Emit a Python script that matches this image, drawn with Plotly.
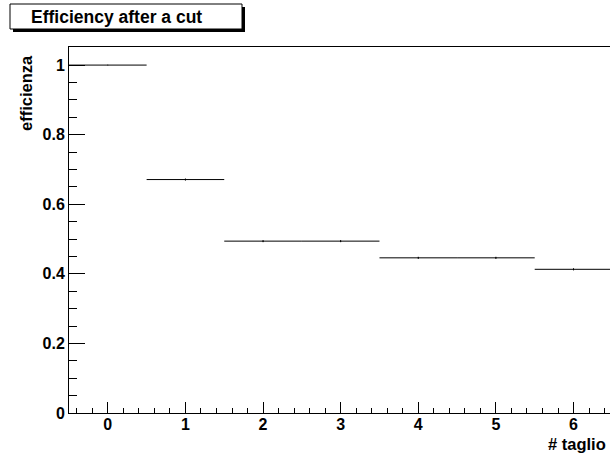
import plotly.graph_objects as go

# Data
cut_index = [0, 1, 2, 3, 4, 5, 6]
efficiency = [1.0, 0.671, 0.494, 0.494, 0.446, 0.446, 0.413]
eff_error = [0.0, 0.003, 0.003, 0.003, 0.003, 0.003, 0.003]
half_bin = [0.5] * len(cut_index)

W, H = 610, 456
L, R, T, B = 69, 0, 47, 43
pw, ph = W - L - R, H - T - B

def px(x):
    return (x - L) / pw

def py(y):
    return (H - B - y) / ph

FONT = "Liberation Sans, Arial, Helvetica, sans-serif"

fig = go.Figure()
fig.add_trace(go.Scatter(
    x=cut_index, y=efficiency, mode="markers",
    marker=dict(size=1, color="black"),
    error_x=dict(type="data", array=half_bin, width=0, thickness=1, color="black"),
    error_y=dict(type="data", array=eff_error, width=0, thickness=1, color="black"),
    showlegend=False, hoverinfo="x+y",
))

fig.update_layout(
    width=W, height=H,
    margin=dict(l=L, r=R, t=T, b=B, pad=0),
    paper_bgcolor="white", plot_bgcolor="white",
    font=dict(family=FONT, size=16, color="black"),
    xaxis=dict(
        range=[-0.5, 6.47], dtick=1, tick0=0,
        showgrid=False, zeroline=False,
        showline=True, linecolor="black", linewidth=1, mirror=True,
        ticks="inside", ticklen=11, tickcolor="black", tickwidth=1,
        ticklabelstandoff=-3,
        minor=dict(dtick=0.2, tick0=0, ticks="inside", ticklen=5, tickcolor="black", showgrid=False),
        tickfont=dict(family=FONT, size=16, color="black", weight="bold"),
    ),
    yaxis=dict(
        range=[0, 1.052], dtick=0.2, tick0=0,
        showgrid=False, zeroline=False,
        showline=True, linecolor="black", linewidth=1, mirror=False,
        ticks="inside", ticklen=16, tickcolor="black", tickwidth=1,
        minor=dict(dtick=0.05, tick0=0, ticks="inside", ticklen=8, tickcolor="black", showgrid=False),
        tickfont=dict(family=FONT, size=16, color="black", weight="bold"),
    ),
    shapes=[
        dict(type="rect", xref="paper", yref="paper",
             x0=px(13), x1=px(245), y0=py(32), y1=py(7),
             fillcolor="black", line=dict(width=0), layer="above"),
        dict(type="rect", xref="paper", yref="paper",
             x0=px(10), x1=px(242), y0=py(29), y1=py(4),
             fillcolor="white", line=dict(color="black", width=1), layer="above"),
    ],
    annotations=[
        dict(text="<b>Efficiency after a cut</b>", xref="paper", yref="paper",
             x=px(116.5), y=py(16.5), xanchor="center", yanchor="middle",
             showarrow=False, font=dict(family=FONT, size=17.5, color="black")),
        dict(text="<b>efficienza</b>", xref="paper", yref="paper",
             x=px(26), y=py(53), xanchor="center", yanchor="top", textangle=-90,
             showarrow=False, font=dict(family=FONT, size=16.5, color="black")),
        dict(text="<b># taglio</b>", xref="paper", yref="paper",
             x=px(608), y=py(443.5), xanchor="right", yanchor="middle",
             showarrow=False, font=dict(family=FONT, size=16.5, color="black")),
    ],
)

fig.write_html("out.html", config={"displayModeBar": False},
               post_script="document.body.style.margin='0';document.body.style.overflow='hidden';")
